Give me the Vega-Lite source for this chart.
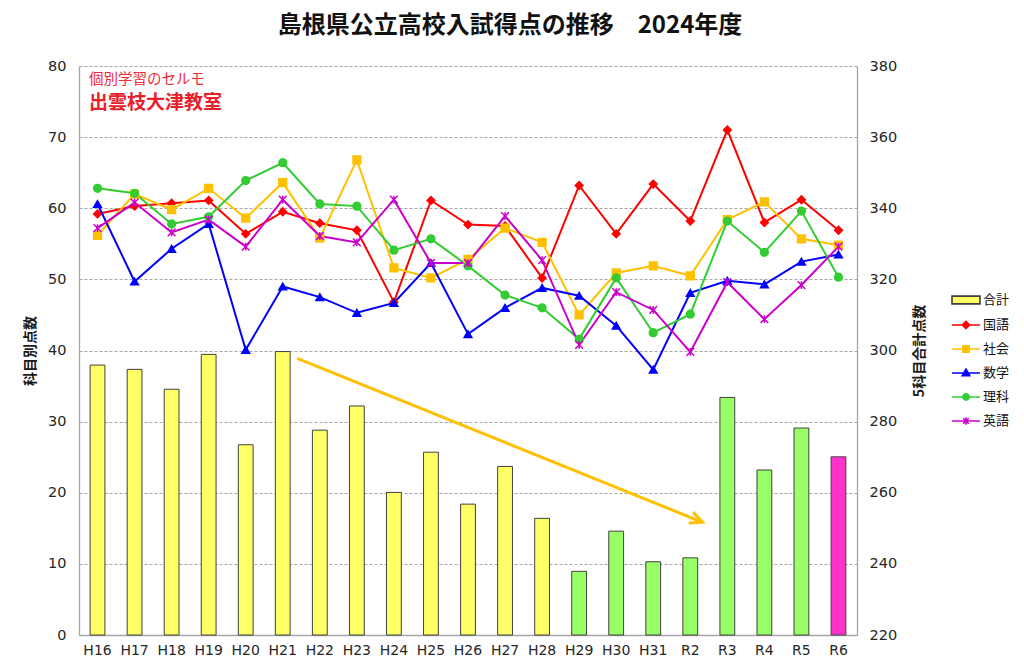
{
  "$schema": "https://vega.github.io/schema/vega-lite/v6.json",
  "width": 778,
  "height": 569,
  "autosize": {"type": "none"},
  "padding": {"left": 79, "top": 66, "right": 167, "bottom": 35},
  "background": "white",
  "title": {"text": "島根県公立高校入試得点の推移　2024年度", "font": "Noto Sans CJK JP", "fontSize": 24, "fontWeight": "bold", "color": "#111111", "anchor": "middle", "frame": "group", "dx": 42, "offset": 20},
  "config": {
    "view": {"stroke": null},
    "axis": {"domainColor": "#A6A6A6", "domainWidth": 1.3, "ticks": false, "gridColor": "#A6A6A6", "gridDash": [3, 2], "gridWidth": 1, "labelFont": "DejaVu Sans", "labelColor": "#262626", "titleFont": "Noto Sans CJK JP", "titleColor": "#1a1a1a"}
  },
  "datasets": {
    "totals": [
      {"year": "H16", "total": 295.9, "period": "H16-H28"},
      {"year": "H17", "total": 294.7, "period": "H16-H28"},
      {"year": "H18", "total": 289.1, "period": "H16-H28"},
      {"year": "H19", "total": 298.9, "period": "H16-H28"},
      {"year": "H20", "total": 273.5, "period": "H16-H28"},
      {"year": "H21", "total": 299.7, "period": "H16-H28"},
      {"year": "H22", "total": 277.6, "period": "H16-H28"},
      {"year": "H23", "total": 284.4, "period": "H16-H28"},
      {"year": "H24", "total": 260.1, "period": "H16-H28"},
      {"year": "H25", "total": 271.4, "period": "H16-H28"},
      {"year": "H26", "total": 256.8, "period": "H16-H28"},
      {"year": "H27", "total": 267.4, "period": "H16-H28"},
      {"year": "H28", "total": 252.8, "period": "H16-H28"},
      {"year": "H29", "total": 237.9, "period": "H29-R5"},
      {"year": "H30", "total": 249.2, "period": "H29-R5"},
      {"year": "H31", "total": 240.6, "period": "H29-R5"},
      {"year": "R2", "total": 241.7, "period": "H29-R5"},
      {"year": "R3", "total": 286.8, "period": "H29-R5"},
      {"year": "R4", "total": 266.4, "period": "H29-R5"},
      {"year": "R5", "total": 278.2, "period": "H29-R5"},
      {"year": "R6", "total": 270.1, "period": "R6"}
    ],
    "scores": [
      {"subject": "国語", "year": "H16", "score": 59.2}, {"subject": "国語", "year": "H17", "score": 60.3}, {"subject": "国語", "year": "H18", "score": 60.7}, {"subject": "国語", "year": "H19", "score": 61.1}, {"subject": "国語", "year": "H20", "score": 56.4}, {"subject": "国語", "year": "H21", "score": 59.5}, {"subject": "国語", "year": "H22", "score": 57.9}, {"subject": "国語", "year": "H23", "score": 56.9}, {"subject": "国語", "year": "H24", "score": 46.8}, {"subject": "国語", "year": "H25", "score": 61.1}, {"subject": "国語", "year": "H26", "score": 57.7}, {"subject": "国語", "year": "H27", "score": 57.5}, {"subject": "国語", "year": "H28", "score": 50.2}, {"subject": "国語", "year": "H29", "score": 63.2}, {"subject": "国語", "year": "H30", "score": 56.4}, {"subject": "国語", "year": "H31", "score": 63.4}, {"subject": "国語", "year": "R2", "score": 58.2}, {"subject": "国語", "year": "R3", "score": 71.0}, {"subject": "国語", "year": "R4", "score": 58.0}, {"subject": "国語", "year": "R5", "score": 61.2}, {"subject": "国語", "year": "R6", "score": 56.9},
      {"subject": "社会", "year": "H16", "score": 56.2}, {"subject": "社会", "year": "H17", "score": 62.0}, {"subject": "社会", "year": "H18", "score": 59.8}, {"subject": "社会", "year": "H19", "score": 62.8}, {"subject": "社会", "year": "H20", "score": 58.6}, {"subject": "社会", "year": "H21", "score": 63.6}, {"subject": "社会", "year": "H22", "score": 55.8}, {"subject": "社会", "year": "H23", "score": 66.8}, {"subject": "社会", "year": "H24", "score": 51.6}, {"subject": "社会", "year": "H25", "score": 50.2}, {"subject": "社会", "year": "H26", "score": 52.8}, {"subject": "社会", "year": "H27", "score": 57.2}, {"subject": "社会", "year": "H28", "score": 55.2}, {"subject": "社会", "year": "H29", "score": 45.0}, {"subject": "社会", "year": "H30", "score": 50.9}, {"subject": "社会", "year": "H31", "score": 51.9}, {"subject": "社会", "year": "R2", "score": 50.5}, {"subject": "社会", "year": "R3", "score": 58.4}, {"subject": "社会", "year": "R4", "score": 60.9}, {"subject": "社会", "year": "R5", "score": 55.7}, {"subject": "社会", "year": "R6", "score": 54.8},
      {"subject": "数学", "year": "H16", "score": 60.6}, {"subject": "数学", "year": "H17", "score": 49.7}, {"subject": "数学", "year": "H18", "score": 54.3}, {"subject": "数学", "year": "H19", "score": 57.8}, {"subject": "数学", "year": "H20", "score": 40.1}, {"subject": "数学", "year": "H21", "score": 49.0}, {"subject": "数学", "year": "H22", "score": 47.5}, {"subject": "数学", "year": "H23", "score": 45.3}, {"subject": "数学", "year": "H24", "score": 46.7}, {"subject": "数学", "year": "H25", "score": 52.3}, {"subject": "数学", "year": "H26", "score": 42.3}, {"subject": "数学", "year": "H27", "score": 46.0}, {"subject": "数学", "year": "H28", "score": 48.8}, {"subject": "数学", "year": "H29", "score": 47.7}, {"subject": "数学", "year": "H30", "score": 43.5}, {"subject": "数学", "year": "H31", "score": 37.3}, {"subject": "数学", "year": "R2", "score": 48.1}, {"subject": "数学", "year": "R3", "score": 49.8}, {"subject": "数学", "year": "R4", "score": 49.3}, {"subject": "数学", "year": "R5", "score": 52.5}, {"subject": "数学", "year": "R6", "score": 53.5},
      {"subject": "理科", "year": "H16", "score": 62.8}, {"subject": "理科", "year": "H17", "score": 62.1}, {"subject": "理科", "year": "H18", "score": 57.8}, {"subject": "理科", "year": "H19", "score": 58.8}, {"subject": "理科", "year": "H20", "score": 63.9}, {"subject": "理科", "year": "H21", "score": 66.4}, {"subject": "理科", "year": "H22", "score": 60.6}, {"subject": "理科", "year": "H23", "score": 60.3}, {"subject": "理科", "year": "H24", "score": 54.1}, {"subject": "理科", "year": "H25", "score": 55.7}, {"subject": "理科", "year": "H26", "score": 51.9}, {"subject": "理科", "year": "H27", "score": 47.8}, {"subject": "理科", "year": "H28", "score": 46.0}, {"subject": "理科", "year": "H29", "score": 41.6}, {"subject": "理科", "year": "H30", "score": 50.2}, {"subject": "理科", "year": "H31", "score": 42.5}, {"subject": "理科", "year": "R2", "score": 45.1}, {"subject": "理科", "year": "R3", "score": 58.2}, {"subject": "理科", "year": "R4", "score": 53.8}, {"subject": "理科", "year": "R5", "score": 59.6}, {"subject": "理科", "year": "R6", "score": 50.3},
      {"subject": "英語", "year": "H16", "score": 57.2}, {"subject": "英語", "year": "H17", "score": 60.8}, {"subject": "英語", "year": "H18", "score": 56.6}, {"subject": "英語", "year": "H19", "score": 58.4}, {"subject": "英語", "year": "H20", "score": 54.6}, {"subject": "英語", "year": "H21", "score": 61.2}, {"subject": "英語", "year": "H22", "score": 56.1}, {"subject": "英語", "year": "H23", "score": 55.2}, {"subject": "英語", "year": "H24", "score": 61.2}, {"subject": "英語", "year": "H25", "score": 52.3}, {"subject": "英語", "year": "H26", "score": 52.3}, {"subject": "英語", "year": "H27", "score": 58.9}, {"subject": "英語", "year": "H28", "score": 52.7}, {"subject": "英語", "year": "H29", "score": 40.8}, {"subject": "英語", "year": "H30", "score": 48.2}, {"subject": "英語", "year": "H31", "score": 45.7}, {"subject": "英語", "year": "R2", "score": 39.8}, {"subject": "英語", "year": "R3", "score": 49.6}, {"subject": "英語", "year": "R4", "score": 44.4}, {"subject": "英語", "year": "R5", "score": 49.2}, {"subject": "英語", "year": "R6", "score": 54.6}
    ],
    "legendItems": [
      {"name": "合計"}, {"name": "国語"}, {"name": "社会"}, {"name": "数学"}, {"name": "理科"}, {"name": "英語"}
    ]
  },
  "layer": [
    {
      "data": {"name": "totals"},
      "mark": {"type": "bar", "stroke": "#404040", "strokeWidth": 1},
      "encoding": {
        "x": {"field": "year", "type": "nominal", "sort": null,
              "scale": {"domain": ["H16","H17","H18","H19","H20","H21","H22","H23","H24","H25","H26","H27","H28","H29","H30","H31","R2","R3","R4","R5","R6"], "paddingInner": 0.6, "paddingOuter": 0.3},
              "axis": {"title": null, "labelAngle": 0, "labelFontSize": 14, "labelPadding": 8, "domainColor": "#A6A6A6"}},
        "y": {"field": "total", "type": "quantitative",
              "scale": {"domain": [220, 380], "zero": false, "nice": false},
              "axis": {"orient": "right", "values": [220, 240, 260, 280, 300, 320, 340, 360, 380], "grid": false, "labelFontSize": 14.5, "labelPadding": 12, "title": "5科目合計点数", "titleFontSize": 14, "titleFontWeight": "bold", "titleAngle": 270, "titlePadding": 30}},
        "y2": {"datum": 220},
        "fill": {"field": "period", "type": "nominal", "scale": {"domain": ["H16-H28", "H29-R5", "R6"], "range": ["#FFFF66", "#99FF66", "#FF33CC"]}, "legend": null}
      }
    },
    {
      "data": {"name": "scores"},
      "encoding": {
        "x": {"field": "year", "type": "nominal", "sort": null,
              "scale": {"type": "point", "domain": ["H16","H17","H18","H19","H20","H21","H22","H23","H24","H25","H26","H27","H28","H29","H30","H31","R2","R3","R4","R5","R6"], "padding": 0.5},
              "axis": null},
        "y": {"field": "score", "type": "quantitative",
              "scale": {"domain": [0, 80], "nice": false},
              "axis": {"values": [0, 10, 20, 30, 40, 50, 60, 70, 80], "grid": true, "labelFontSize": 14.5, "labelPadding": 13, "title": "科目別点数", "titleFontSize": 14, "titleFontWeight": "bold", "titlePadding": 10}}
      },
      "layer": [
        {
          "mark": {"type": "line", "strokeWidth": 2},
          "encoding": {
            "color": {"field": "subject", "type": "nominal", "scale": {"domain": ["国語", "社会", "数学", "理科", "英語"], "range": ["#FF0000", "#FFC000", "#0000FF", "#33CC33", "#CC00CC"]}, "legend": null}
          }
        },
        {
          "mark": {"type": "point", "filled": true, "opacity": 1, "size": 60, "strokeWidth": 1.5},
          "encoding": {
            "color": {"field": "subject", "type": "nominal", "scale": {"domain": ["国語", "社会", "数学", "理科", "英語"], "range": ["#FF0000", "#FFC000", "#0000FF", "#33CC33", "#CC00CC"]}, "legend": null},
            "stroke": {"field": "subject", "type": "nominal", "scale": {"domain": ["国語", "社会", "数学", "理科", "英語"], "range": ["#FF0000", "#FFC000", "#0000FF", "#33CC33", "#CC00CC"]}, "legend": null},
            "shape": {"field": "subject", "type": "nominal", "scale": {"domain": ["国語", "社会", "数学", "理科", "英語"], "range": ["diamond", "square", "triangle-up", "circle", "M-1,-1L1,1M-1,1L1,-1M0,-1V1"]}, "legend": null}
          }
        }
      ]
    },
    {
      "data": {"values": [{}]},
      "layer": [
        {
          "mark": {"type": "rule", "color": "#FFC000", "strokeWidth": 3},
          "encoding": {
            "x": {"datum": 5.89, "type": "quantitative", "scale": {"domain": [0, 21], "nice": false, "zero": true}, "axis": null},
            "x2": {"datum": 16.83},
            "y": {"datum": 38.9, "type": "quantitative", "scale": {"domain": [0, 80], "nice": false}, "axis": null},
            "y2": {"datum": 15.85}
          }
        },
        {
          "mark": {"type": "point", "shape": "M-1,-0.47L0,0L-1,0.47", "filled": false, "size": 625, "angle": 22, "stroke": "#FFC000", "strokeWidth": 3, "opacity": 1},
          "encoding": {
            "x": {"datum": 16.83, "type": "quantitative", "scale": {"domain": [0, 21], "nice": false, "zero": true}, "axis": null},
            "y": {"datum": 15.85, "type": "quantitative", "scale": {"domain": [0, 80], "nice": false}, "axis": null}
          }
        },
        {
          "mark": {"type": "text", "text": "個別学習のセルモ", "align": "left", "baseline": "middle", "font": "Noto Sans CJK JP", "fontSize": 14.5, "color": "#EE2A36"},
          "encoding": {
            "x": {"datum": 0.27, "type": "quantitative", "scale": {"domain": [0, 21], "nice": false, "zero": true}, "axis": null},
            "y": {"datum": 78.1, "type": "quantitative", "scale": {"domain": [0, 80], "nice": false}, "axis": null}
          }
        },
        {
          "mark": {"type": "text", "text": "出雲枝大津教室", "align": "left", "baseline": "middle", "font": "Noto Sans CJK JP", "fontSize": 19, "fontWeight": "bold", "color": "#E8202A"},
          "encoding": {
            "x": {"datum": 0.27, "type": "quantitative", "scale": {"domain": [0, 21], "nice": false, "zero": true}, "axis": null},
            "y": {"datum": 74.75, "type": "quantitative", "scale": {"domain": [0, 80], "nice": false}, "axis": null}
          }
        }
      ]
    },
    {
      "data": {"name": "legendItems"},
      "transform": [{"filter": "false"}],
      "mark": {"type": "point", "filled": true, "size": 784, "strokeWidth": 1.6, "opacity": 1},
      "encoding": {
        "fill": {"field": "name", "type": "nominal",
                 "scale": {"domain": ["合計", "国語", "社会", "数学", "理科", "英語"], "range": ["#FFFF66", "#FF0000", "#FFC000", "#0000FF", "#33CC33", "#CC00CC"]},
                 "legend": {"title": null, "orient": "none", "legendX": 872, "legendY": 219, "padding": 0, "symbolSize": 784, "symbolStrokeWidth": 1.6, "labelFont": "Noto Sans CJK JP", "labelFontSize": 13, "labelColor": "#111111", "labelOffset": 2, "rowPadding": 2}},
        "stroke": {"field": "name", "type": "nominal",
                 "scale": {"domain": ["合計", "国語", "社会", "数学", "理科", "英語"], "range": ["#404040", "#FF0000", "#FFC000", "#0000FF", "#33CC33", "#CC00CC"]},
                 "legend": {"title": null, "orient": "none", "legendX": 872, "legendY": 219, "padding": 0, "symbolSize": 784, "symbolStrokeWidth": 1.6, "labelFont": "Noto Sans CJK JP", "labelFontSize": 13, "labelColor": "#111111", "labelOffset": 2, "rowPadding": 2}},
        "shape": {"field": "name", "type": "nominal",
                 "scale": {"domain": ["合計", "国語", "社会", "数学", "理科", "英語"], "range": ["M-1,-0.28H1V0.28H-1Z", "M-1,0H1M0,-0.26L0.26,0L0,0.26L-0.26,0Z", "M-1,0H1M-0.22,-0.22H0.22V0.22H-0.22Z", "M-1,0H1M0,-0.27L0.27,0.2H-0.27Z", "M-1,0H1M0.22,0A0.22,0.22 0 1,1 -0.22,0A0.22,0.22 0 1,1 0.22,0Z", "M-1,0H1M-0.2,-0.2L0.2,0.2M-0.2,0.2L0.2,-0.2M0,-0.26V0.26"]},
                 "legend": {"title": null, "orient": "none", "legendX": 872, "legendY": 219, "padding": 0, "symbolSize": 784, "symbolStrokeWidth": 1.6, "labelFont": "Noto Sans CJK JP", "labelFontSize": 13, "labelColor": "#111111", "labelOffset": 2, "rowPadding": 2}}
      }
    }
  ],
  "resolve": {"scale": {"x": "independent", "y": "independent", "color": "independent", "fill": "independent", "stroke": "independent", "shape": "independent"}}
}
